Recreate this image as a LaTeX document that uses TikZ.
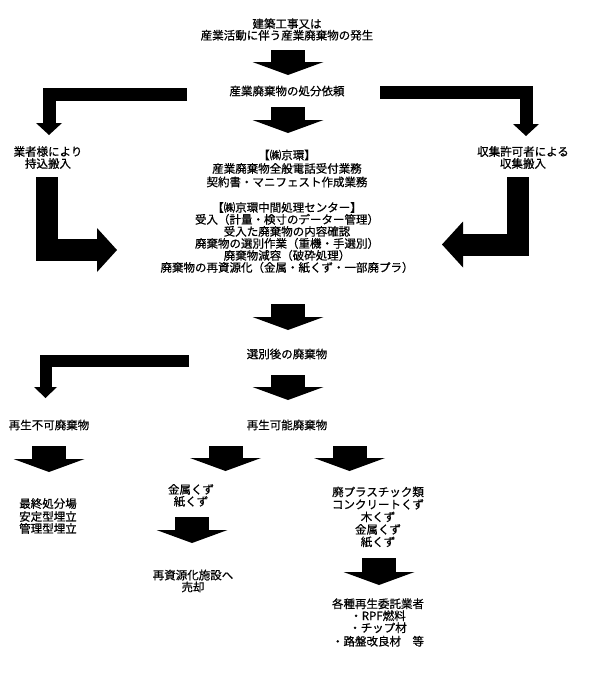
\documentclass[tikz,border=0pt]{standalone}
\usepackage{fontspec}
\setmainfont{Noto Sans CJK JP}[FakeBold=0.6]
\usetikzlibrary{arrows.meta}
\tikzset{
  txt/.style={align=center, inner sep=0pt, font=\fontsize{11.5}{12}\selectfont},
  bigarrow/.style={line width=34pt, -{Triangle[length=13pt,width=71pt,line width=0pt]}},
  bentarrow/.style={line width=13pt, line join=miter, -{Triangle[length=12pt,width=26pt,line width=0pt]}},
  sidearrow/.style={line width=22pt, line join=miter, -{Triangle[length=20pt,width=44pt,line width=0pt]}}
}

\begin{document}
\begin{tikzpicture}[x=1pt,y=-1pt]
    \useasboundingbox (0,0) rectangle (599,696);
    % texts
    \node[txt] at (287,29.5) (start) {建築工事又は\\[-0.5pt]産業活動に伴う産業廃棄物の発生};
    \node[txt] at (287,91) (request) {産業廃棄物の処分依頼};
    \node[txt] at (48,157.5) (own) {業者様により\\持込搬入};
    \node[txt] at (523,157.5) (collect) {収集許可者による\\収集搬入};
    \node[txt] at (287,168.5) (office) {【㈱京環】\\[1.5pt]産業廃棄物全般電話受付業務\\[1.5pt]契約書・マニフェスト作成業務};
    \node[txt] at (287,237.5) (center) {【㈱京環中間処理センター】\\受入（計量・検寸のデーター管理）\\受入た廃棄物の内容確認\\廃棄物の選別作業（重機・手選別）\\廃棄物減容（破砕処理）\\廃棄物の再資源化（金属・紙くず・一部廃プラ）};
    \node[txt] at (287,354) (sorted) {選別後の廃棄物};
    \node[txt] at (49,425) (nonrec) {再生不可廃棄物};
    \node[txt] at (287,425) (rec) {再生可能廃棄物};
    \node[txt] at (48,516) (landfill) {最終処分場\\[1pt]安定型埋立\\管理型埋立};
    \node[txt] at (191,495.5) (metal) {金属くず\\紙くず};
    \node[txt] at (193,581) (sale) {再資源化施設へ\\売却};
    \node[txt] at (378,517) (mixed) {廃プラスチック類\\[0.5pt]コンクリートくず\\[0.5pt]木くず\\[0.5pt]金属くず\\[0.5pt]紙くず};
    \node[txt] at (378,622.5) (agents) {各種再生委託業者\\・RPF燃料\\・チップ材\\[1.5pt]・路盤改良材　等};
    % arrow ends
    \coordinate (a1) at (288,50);  \coordinate (a1e) at (288,75);
    \coordinate (a2) at (288,107); \coordinate (a2e) at (288,133);
    \coordinate (a3) at (288,304); \coordinate (a3e) at (288,330);
    \coordinate (a4) at (288,375); \coordinate (a4e) at (288,400);
    \coordinate (b1) at (49,446);  \coordinate (b1e) at (49,472);
    \coordinate (b2) at (225.5,446); \coordinate (b2e) at (225.5,471);
    \coordinate (b3) at (349.5,446); \coordinate (b3e) at (349.5,471);
    \coordinate (b4) at (192,517); \coordinate (b4e) at (192,543);
    \coordinate (b5) at (379,558); \coordinate (b5e) at (379,585);
    \coordinate (l1) at (187,94.5); \coordinate (l1e) at (49,135);
    \coordinate (r1) at (380,92);   \coordinate (r1e) at (526,136);
    \coordinate (l2) at (46.5,177); \coordinate (l2e) at (117,250);
    \coordinate (r2) at (518,177);  \coordinate (r2e) at (442,244.5);
    \coordinate (l3) at (189,360.5); \coordinate (l3e) at (45.5,398);
    % arrows
    \draw[bigarrow] (a1) -- (a1e);
    \draw[bigarrow] (a2) -- (a2e);
    \draw[bigarrow] (a3) -- (a3e);
    \draw[bigarrow] (a4) -- (a4e);
    \draw[bigarrow] (b1) -- (b1e);
    \draw[bigarrow] (b2) -- (b2e);
    \draw[bigarrow] (b3) -- (b3e);
    \draw[bigarrow] (b4) -- (b4e);
    \draw[bigarrow] (b5) -- (b5e);
    \draw[bentarrow] (l1) -| (l1e);
    \draw[bentarrow] (r1) -| (r1e);
    \draw[bentarrow,line width=12pt,-{Triangle[length=11pt,width=23pt,line width=0pt]}] (l3) -| (l3e);
    \draw[sidearrow] (l2) |- (l2e);
    \draw[sidearrow,-{Triangle[length=21pt,width=46pt,line width=0pt]}] (r2) |- (r2e);
\end{tikzpicture}
\end{document}
